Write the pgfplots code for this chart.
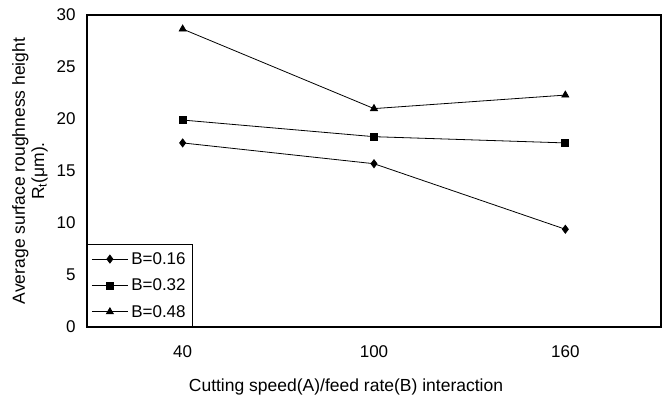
\documentclass[border=0pt]{standalone}
\usepackage{fontspec}
\setmainfont{Liberation Sans}
\usepackage{pgfplots}
\pgfplotsset{compat=1.18}

\begin{document}
\begin{tikzpicture}
\begin{axis}[name=ax,
    scale only axis, width=574pt, height=312pt,
    xmin=-0.5, xmax=2.5, ymin=0, ymax=30,
    xtick={0,1,2}, xticklabels={40,100,160},
    ytick={0,5,...,30},
    major tick length=0pt,
    /pgf/number format/assume math mode=true,
    tick label style={font=\fontsize{17}{19}\selectfont},
    label style={font=\fontsize{17.5}{20}\selectfont},
    xticklabel style={yshift=-15pt},
    yticklabel style={xshift=-8pt},
    xlabel={Cutting speed(A)/feed rate(B) interaction},
    xlabel style={yshift=-14pt, xshift=-28pt},
    ylabel={\shortstack{Average surface roughness height\\R\textsubscript{t}(μm).}},
    ylabel style={yshift=2pt},
    axis line style={line width=1.4pt},
    every axis plot/.append style={black, line width=0.8pt},
    legend cell align=left,
    legend image code/.code={\draw[mark repeat=2,mark phase=2] plot coordinates {(0pt,0pt) (18pt,0pt) (36pt,0pt)};},
    legend style={at={(0,0)}, anchor=south west, draw=black, line width=1pt,
        font=\fontsize{17}{19}\selectfont, row sep=9pt,
        inner xsep=4pt, inner ysep=6pt,
        nodes={inner xsep=3pt}},
]
\addplot[mark=diamond*, mark size=4pt] coordinates {(0,17.7) (1,15.7) (2,9.4)};
\addlegendentry{B=0.16\hspace{5pt}}
\addplot[mark=square*, mark size=3.5pt] coordinates {(0,19.9) (1,18.3) (2,17.7)};
\addlegendentry{B=0.32\hspace{5pt}}
\addplot[mark=triangle*, mark size=4pt] coordinates {(0,28.65) (1,21.0) (2,22.3)};
\addlegendentry{B=0.48\hspace{5pt}}
\end{axis}
\path (ax.south west) ++(-87pt,-78pt) rectangle ++(665pt,405pt);
\end{tikzpicture}
\end{document}
